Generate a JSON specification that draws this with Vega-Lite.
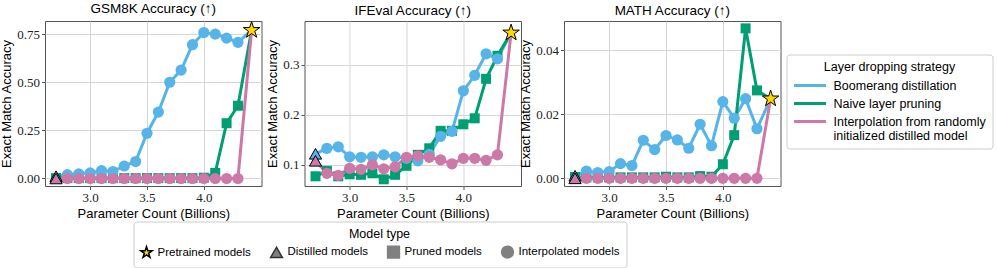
{
  "$schema": "https://vega.github.io/schema/vega-lite/v6.json",
  "padding": {"left": 0, "top": 1, "right": 2, "bottom": 2},
  "bounds": "flush",
  "spacing": 42.5,
  "data": {"values": [
    {"p":"GSM8K","s":"Boomerang distillation","x":2.7,"y":0.012,"t":"Distilled models"},
    {"p":"GSM8K","s":"Boomerang distillation","x":2.8,"y":0.020,"t":"Interpolated models"},
    {"p":"GSM8K","s":"Boomerang distillation","x":2.9,"y":0.024,"t":"Interpolated models"},
    {"p":"GSM8K","s":"Boomerang distillation","x":3.0,"y":0.029,"t":"Interpolated models"},
    {"p":"GSM8K","s":"Boomerang distillation","x":3.1,"y":0.041,"t":"Interpolated models"},
    {"p":"GSM8K","s":"Boomerang distillation","x":3.2,"y":0.036,"t":"Interpolated models"},
    {"p":"GSM8K","s":"Boomerang distillation","x":3.3,"y":0.065,"t":"Interpolated models"},
    {"p":"GSM8K","s":"Boomerang distillation","x":3.4,"y":0.088,"t":"Interpolated models"},
    {"p":"GSM8K","s":"Boomerang distillation","x":3.5,"y":0.235,"t":"Interpolated models"},
    {"p":"GSM8K","s":"Boomerang distillation","x":3.6,"y":0.345,"t":"Interpolated models"},
    {"p":"GSM8K","s":"Boomerang distillation","x":3.7,"y":0.500,"t":"Interpolated models"},
    {"p":"GSM8K","s":"Boomerang distillation","x":3.8,"y":0.563,"t":"Interpolated models"},
    {"p":"GSM8K","s":"Boomerang distillation","x":3.9,"y":0.695,"t":"Interpolated models"},
    {"p":"GSM8K","s":"Boomerang distillation","x":4.0,"y":0.758,"t":"Interpolated models"},
    {"p":"GSM8K","s":"Boomerang distillation","x":4.1,"y":0.750,"t":"Interpolated models"},
    {"p":"GSM8K","s":"Boomerang distillation","x":4.2,"y":0.729,"t":"Interpolated models"},
    {"p":"GSM8K","s":"Boomerang distillation","x":4.3,"y":0.707,"t":"Interpolated models"},
    {"p":"GSM8K","s":"Boomerang distillation","x":4.42,"y":0.770,"t":"Pretrained models"},
    {"p":"GSM8K","s":"Naive layer pruning","x":2.7,"y":0.002,"t":"Pruned models"},
    {"p":"GSM8K","s":"Naive layer pruning","x":2.8,"y":0.002,"t":"Pruned models"},
    {"p":"GSM8K","s":"Naive layer pruning","x":2.9,"y":0.002,"t":"Pruned models"},
    {"p":"GSM8K","s":"Naive layer pruning","x":3.0,"y":0.002,"t":"Pruned models"},
    {"p":"GSM8K","s":"Naive layer pruning","x":3.1,"y":0.002,"t":"Pruned models"},
    {"p":"GSM8K","s":"Naive layer pruning","x":3.2,"y":0.002,"t":"Pruned models"},
    {"p":"GSM8K","s":"Naive layer pruning","x":3.3,"y":0.002,"t":"Pruned models"},
    {"p":"GSM8K","s":"Naive layer pruning","x":3.4,"y":0.002,"t":"Pruned models"},
    {"p":"GSM8K","s":"Naive layer pruning","x":3.5,"y":0.002,"t":"Pruned models"},
    {"p":"GSM8K","s":"Naive layer pruning","x":3.6,"y":0.002,"t":"Pruned models"},
    {"p":"GSM8K","s":"Naive layer pruning","x":3.7,"y":0.002,"t":"Pruned models"},
    {"p":"GSM8K","s":"Naive layer pruning","x":3.8,"y":0.002,"t":"Pruned models"},
    {"p":"GSM8K","s":"Naive layer pruning","x":3.9,"y":0.002,"t":"Pruned models"},
    {"p":"GSM8K","s":"Naive layer pruning","x":4.0,"y":0.004,"t":"Pruned models"},
    {"p":"GSM8K","s":"Naive layer pruning","x":4.1,"y":0.029,"t":"Pruned models"},
    {"p":"GSM8K","s":"Naive layer pruning","x":4.2,"y":0.287,"t":"Pruned models"},
    {"p":"GSM8K","s":"Naive layer pruning","x":4.3,"y":0.378,"t":"Pruned models"},
    {"p":"GSM8K","s":"Naive layer pruning","x":4.42,"y":0.770,"t":"Pretrained models"},
    {"p":"GSM8K","s":"Interpolation from randomly initialized distilled model","x":2.7,"y":0.0,"t":"Distilled models"},
    {"p":"GSM8K","s":"Interpolation from randomly initialized distilled model","x":2.8,"y":0.0,"t":"Interpolated models"},
    {"p":"GSM8K","s":"Interpolation from randomly initialized distilled model","x":2.9,"y":0.0,"t":"Interpolated models"},
    {"p":"GSM8K","s":"Interpolation from randomly initialized distilled model","x":3.0,"y":0.0,"t":"Interpolated models"},
    {"p":"GSM8K","s":"Interpolation from randomly initialized distilled model","x":3.1,"y":0.0,"t":"Interpolated models"},
    {"p":"GSM8K","s":"Interpolation from randomly initialized distilled model","x":3.2,"y":0.0,"t":"Interpolated models"},
    {"p":"GSM8K","s":"Interpolation from randomly initialized distilled model","x":3.3,"y":0.0,"t":"Interpolated models"},
    {"p":"GSM8K","s":"Interpolation from randomly initialized distilled model","x":3.4,"y":0.0,"t":"Interpolated models"},
    {"p":"GSM8K","s":"Interpolation from randomly initialized distilled model","x":3.5,"y":0.0,"t":"Interpolated models"},
    {"p":"GSM8K","s":"Interpolation from randomly initialized distilled model","x":3.6,"y":0.0,"t":"Interpolated models"},
    {"p":"GSM8K","s":"Interpolation from randomly initialized distilled model","x":3.7,"y":0.0,"t":"Interpolated models"},
    {"p":"GSM8K","s":"Interpolation from randomly initialized distilled model","x":3.8,"y":0.0,"t":"Interpolated models"},
    {"p":"GSM8K","s":"Interpolation from randomly initialized distilled model","x":3.9,"y":0.0,"t":"Interpolated models"},
    {"p":"GSM8K","s":"Interpolation from randomly initialized distilled model","x":4.0,"y":0.0,"t":"Interpolated models"},
    {"p":"GSM8K","s":"Interpolation from randomly initialized distilled model","x":4.1,"y":0.0,"t":"Interpolated models"},
    {"p":"GSM8K","s":"Interpolation from randomly initialized distilled model","x":4.2,"y":0.0,"t":"Interpolated models"},
    {"p":"GSM8K","s":"Interpolation from randomly initialized distilled model","x":4.3,"y":0.0,"t":"Interpolated models"},
    {"p":"GSM8K","s":"Interpolation from randomly initialized distilled model","x":4.42,"y":0.770,"t":"Pretrained models"},

    {"p":"IFEval","s":"Boomerang distillation","x":2.7,"y":0.122,"t":"Distilled models"},
    {"p":"IFEval","s":"Boomerang distillation","x":2.8,"y":0.133,"t":"Interpolated models"},
    {"p":"IFEval","s":"Boomerang distillation","x":2.9,"y":0.136,"t":"Interpolated models"},
    {"p":"IFEval","s":"Boomerang distillation","x":3.0,"y":0.116,"t":"Interpolated models"},
    {"p":"IFEval","s":"Boomerang distillation","x":3.1,"y":0.115,"t":"Interpolated models"},
    {"p":"IFEval","s":"Boomerang distillation","x":3.2,"y":0.116,"t":"Interpolated models"},
    {"p":"IFEval","s":"Boomerang distillation","x":3.3,"y":0.120,"t":"Interpolated models"},
    {"p":"IFEval","s":"Boomerang distillation","x":3.4,"y":0.116,"t":"Interpolated models"},
    {"p":"IFEval","s":"Boomerang distillation","x":3.5,"y":0.113,"t":"Interpolated models"},
    {"p":"IFEval","s":"Boomerang distillation","x":3.6,"y":0.108,"t":"Interpolated models"},
    {"p":"IFEval","s":"Boomerang distillation","x":3.7,"y":0.121,"t":"Interpolated models"},
    {"p":"IFEval","s":"Boomerang distillation","x":3.8,"y":0.157,"t":"Interpolated models"},
    {"p":"IFEval","s":"Boomerang distillation","x":3.9,"y":0.167,"t":"Interpolated models"},
    {"p":"IFEval","s":"Boomerang distillation","x":4.0,"y":0.248,"t":"Interpolated models"},
    {"p":"IFEval","s":"Boomerang distillation","x":4.1,"y":0.279,"t":"Interpolated models"},
    {"p":"IFEval","s":"Boomerang distillation","x":4.2,"y":0.322,"t":"Interpolated models"},
    {"p":"IFEval","s":"Boomerang distillation","x":4.3,"y":0.312,"t":"Interpolated models"},
    {"p":"IFEval","s":"Boomerang distillation","x":4.42,"y":0.364,"t":"Pretrained models"},
    {"p":"IFEval","s":"Naive layer pruning","x":2.7,"y":0.077,"t":"Pruned models"},
    {"p":"IFEval","s":"Naive layer pruning","x":2.8,"y":0.088,"t":"Pruned models"},
    {"p":"IFEval","s":"Naive layer pruning","x":2.9,"y":0.077,"t":"Pruned models"},
    {"p":"IFEval","s":"Naive layer pruning","x":3.0,"y":0.081,"t":"Pruned models"},
    {"p":"IFEval","s":"Naive layer pruning","x":3.1,"y":0.080,"t":"Pruned models"},
    {"p":"IFEval","s":"Naive layer pruning","x":3.2,"y":0.083,"t":"Pruned models"},
    {"p":"IFEval","s":"Naive layer pruning","x":3.3,"y":0.071,"t":"Pruned models"},
    {"p":"IFEval","s":"Naive layer pruning","x":3.4,"y":0.080,"t":"Pruned models"},
    {"p":"IFEval","s":"Naive layer pruning","x":3.5,"y":0.098,"t":"Pruned models"},
    {"p":"IFEval","s":"Naive layer pruning","x":3.6,"y":0.120,"t":"Pruned models"},
    {"p":"IFEval","s":"Naive layer pruning","x":3.7,"y":0.133,"t":"Pruned models"},
    {"p":"IFEval","s":"Naive layer pruning","x":3.8,"y":0.168,"t":"Pruned models"},
    {"p":"IFEval","s":"Naive layer pruning","x":3.9,"y":0.168,"t":"Pruned models"},
    {"p":"IFEval","s":"Naive layer pruning","x":4.0,"y":0.181,"t":"Pruned models"},
    {"p":"IFEval","s":"Naive layer pruning","x":4.1,"y":0.193,"t":"Pruned models"},
    {"p":"IFEval","s":"Naive layer pruning","x":4.2,"y":0.272,"t":"Pruned models"},
    {"p":"IFEval","s":"Naive layer pruning","x":4.3,"y":0.318,"t":"Pruned models"},
    {"p":"IFEval","s":"Naive layer pruning","x":4.42,"y":0.364,"t":"Pretrained models"},
    {"p":"IFEval","s":"Interpolation from randomly initialized distilled model","x":2.7,"y":0.108,"t":"Distilled models"},
    {"p":"IFEval","s":"Interpolation from randomly initialized distilled model","x":2.8,"y":0.083,"t":"Interpolated models"},
    {"p":"IFEval","s":"Interpolation from randomly initialized distilled model","x":2.9,"y":0.079,"t":"Interpolated models"},
    {"p":"IFEval","s":"Interpolation from randomly initialized distilled model","x":3.0,"y":0.093,"t":"Interpolated models"},
    {"p":"IFEval","s":"Interpolation from randomly initialized distilled model","x":3.1,"y":0.091,"t":"Interpolated models"},
    {"p":"IFEval","s":"Interpolation from randomly initialized distilled model","x":3.2,"y":0.100,"t":"Interpolated models"},
    {"p":"IFEval","s":"Interpolation from randomly initialized distilled model","x":3.3,"y":0.092,"t":"Interpolated models"},
    {"p":"IFEval","s":"Interpolation from randomly initialized distilled model","x":3.4,"y":0.096,"t":"Interpolated models"},
    {"p":"IFEval","s":"Interpolation from randomly initialized distilled model","x":3.5,"y":0.115,"t":"Interpolated models"},
    {"p":"IFEval","s":"Interpolation from randomly initialized distilled model","x":3.6,"y":0.118,"t":"Interpolated models"},
    {"p":"IFEval","s":"Interpolation from randomly initialized distilled model","x":3.7,"y":0.115,"t":"Interpolated models"},
    {"p":"IFEval","s":"Interpolation from randomly initialized distilled model","x":3.8,"y":0.110,"t":"Interpolated models"},
    {"p":"IFEval","s":"Interpolation from randomly initialized distilled model","x":3.9,"y":0.102,"t":"Interpolated models"},
    {"p":"IFEval","s":"Interpolation from randomly initialized distilled model","x":4.0,"y":0.113,"t":"Interpolated models"},
    {"p":"IFEval","s":"Interpolation from randomly initialized distilled model","x":4.1,"y":0.113,"t":"Interpolated models"},
    {"p":"IFEval","s":"Interpolation from randomly initialized distilled model","x":4.2,"y":0.109,"t":"Interpolated models"},
    {"p":"IFEval","s":"Interpolation from randomly initialized distilled model","x":4.3,"y":0.120,"t":"Interpolated models"},
    {"p":"IFEval","s":"Interpolation from randomly initialized distilled model","x":4.42,"y":0.364,"t":"Pretrained models"},

    {"p":"MATH","s":"Boomerang distillation","x":2.7,"y":0.0008,"t":"Distilled models"},
    {"p":"MATH","s":"Boomerang distillation","x":2.8,"y":0.0023,"t":"Interpolated models"},
    {"p":"MATH","s":"Boomerang distillation","x":2.9,"y":0.0018,"t":"Interpolated models"},
    {"p":"MATH","s":"Boomerang distillation","x":3.0,"y":0.0021,"t":"Interpolated models"},
    {"p":"MATH","s":"Boomerang distillation","x":3.1,"y":0.0046,"t":"Interpolated models"},
    {"p":"MATH","s":"Boomerang distillation","x":3.2,"y":0.0040,"t":"Interpolated models"},
    {"p":"MATH","s":"Boomerang distillation","x":3.3,"y":0.0119,"t":"Interpolated models"},
    {"p":"MATH","s":"Boomerang distillation","x":3.4,"y":0.0090,"t":"Interpolated models"},
    {"p":"MATH","s":"Boomerang distillation","x":3.5,"y":0.0134,"t":"Interpolated models"},
    {"p":"MATH","s":"Boomerang distillation","x":3.6,"y":0.0120,"t":"Interpolated models"},
    {"p":"MATH","s":"Boomerang distillation","x":3.7,"y":0.0094,"t":"Interpolated models"},
    {"p":"MATH","s":"Boomerang distillation","x":3.8,"y":0.0169,"t":"Interpolated models"},
    {"p":"MATH","s":"Boomerang distillation","x":3.9,"y":0.0102,"t":"Interpolated models"},
    {"p":"MATH","s":"Boomerang distillation","x":4.0,"y":0.0240,"t":"Interpolated models"},
    {"p":"MATH","s":"Boomerang distillation","x":4.1,"y":0.0188,"t":"Interpolated models"},
    {"p":"MATH","s":"Boomerang distillation","x":4.2,"y":0.0249,"t":"Interpolated models"},
    {"p":"MATH","s":"Boomerang distillation","x":4.3,"y":0.0155,"t":"Interpolated models"},
    {"p":"MATH","s":"Boomerang distillation","x":4.42,"y":0.0249,"t":"Pretrained models"},
    {"p":"MATH","s":"Naive layer pruning","x":2.7,"y":0.0004,"t":"Pruned models"},
    {"p":"MATH","s":"Naive layer pruning","x":2.8,"y":0.0003,"t":"Pruned models"},
    {"p":"MATH","s":"Naive layer pruning","x":2.9,"y":0.0003,"t":"Pruned models"},
    {"p":"MATH","s":"Naive layer pruning","x":3.0,"y":0.0003,"t":"Pruned models"},
    {"p":"MATH","s":"Naive layer pruning","x":3.1,"y":0.0003,"t":"Pruned models"},
    {"p":"MATH","s":"Naive layer pruning","x":3.2,"y":0.0003,"t":"Pruned models"},
    {"p":"MATH","s":"Naive layer pruning","x":3.3,"y":0.0003,"t":"Pruned models"},
    {"p":"MATH","s":"Naive layer pruning","x":3.4,"y":0.0003,"t":"Pruned models"},
    {"p":"MATH","s":"Naive layer pruning","x":3.5,"y":0.0005,"t":"Pruned models"},
    {"p":"MATH","s":"Naive layer pruning","x":3.6,"y":0.0003,"t":"Pruned models"},
    {"p":"MATH","s":"Naive layer pruning","x":3.7,"y":0.0003,"t":"Pruned models"},
    {"p":"MATH","s":"Naive layer pruning","x":3.8,"y":0.0007,"t":"Pruned models"},
    {"p":"MATH","s":"Naive layer pruning","x":3.9,"y":0.0005,"t":"Pruned models"},
    {"p":"MATH","s":"Naive layer pruning","x":4.0,"y":0.0044,"t":"Pruned models"},
    {"p":"MATH","s":"Naive layer pruning","x":4.1,"y":0.0135,"t":"Pruned models"},
    {"p":"MATH","s":"Naive layer pruning","x":4.2,"y":0.0469,"t":"Pruned models"},
    {"p":"MATH","s":"Naive layer pruning","x":4.3,"y":0.0275,"t":"Pruned models"},
    {"p":"MATH","s":"Naive layer pruning","x":4.42,"y":0.0249,"t":"Pretrained models"},
    {"p":"MATH","s":"Interpolation from randomly initialized distilled model","x":2.7,"y":0.0,"t":"Distilled models"},
    {"p":"MATH","s":"Interpolation from randomly initialized distilled model","x":2.8,"y":0.0,"t":"Interpolated models"},
    {"p":"MATH","s":"Interpolation from randomly initialized distilled model","x":2.9,"y":0.0,"t":"Interpolated models"},
    {"p":"MATH","s":"Interpolation from randomly initialized distilled model","x":3.0,"y":0.0,"t":"Interpolated models"},
    {"p":"MATH","s":"Interpolation from randomly initialized distilled model","x":3.1,"y":0.0,"t":"Interpolated models"},
    {"p":"MATH","s":"Interpolation from randomly initialized distilled model","x":3.2,"y":0.0,"t":"Interpolated models"},
    {"p":"MATH","s":"Interpolation from randomly initialized distilled model","x":3.3,"y":0.0,"t":"Interpolated models"},
    {"p":"MATH","s":"Interpolation from randomly initialized distilled model","x":3.4,"y":0.0,"t":"Interpolated models"},
    {"p":"MATH","s":"Interpolation from randomly initialized distilled model","x":3.5,"y":0.0,"t":"Interpolated models"},
    {"p":"MATH","s":"Interpolation from randomly initialized distilled model","x":3.6,"y":0.0,"t":"Interpolated models"},
    {"p":"MATH","s":"Interpolation from randomly initialized distilled model","x":3.7,"y":0.0,"t":"Interpolated models"},
    {"p":"MATH","s":"Interpolation from randomly initialized distilled model","x":3.8,"y":0.0,"t":"Interpolated models"},
    {"p":"MATH","s":"Interpolation from randomly initialized distilled model","x":3.9,"y":0.0,"t":"Interpolated models"},
    {"p":"MATH","s":"Interpolation from randomly initialized distilled model","x":4.0,"y":0.0,"t":"Interpolated models"},
    {"p":"MATH","s":"Interpolation from randomly initialized distilled model","x":4.1,"y":0.0,"t":"Interpolated models"},
    {"p":"MATH","s":"Interpolation from randomly initialized distilled model","x":4.2,"y":0.0,"t":"Interpolated models"},
    {"p":"MATH","s":"Interpolation from randomly initialized distilled model","x":4.3,"y":0.0,"t":"Interpolated models"},
    {"p":"MATH","s":"Interpolation from randomly initialized distilled model","x":4.42,"y":0.0249,"t":"Pretrained models"}
  ]},
  "resolve": {"scale": {"x": "independent", "y": "independent"}},
  "hconcat": [
    {
      "width": 216.5, "height": 165,
      "title": "GSM8K Accuracy (↑)",
      "transform": [{"filter": "datum.p == 'GSM8K'"}],
      "encoding": {
        "x": {"field": "x", "type": "quantitative", "scale": {"domain": [2.603, 4.507], "nice": false, "zero": false}, "axis": {"values": [3.0, 3.5, 4.0], "format": ".1f", "title": "Parameter Count (Billions)"}},
        "y": {"field": "y", "type": "quantitative", "scale": {"domain": [-0.039, 0.818], "nice": false, "zero": false}, "axis": {"values": [0, 0.25, 0.5, 0.75], "format": ".2f", "title": "Exact Match Accuracy"}}
      },
      "layer": [
        {"mark": {"type": "line", "strokeWidth": 3}, "encoding": {"color": {"field": "s", "type": "nominal", "scale": {"domain": ["Boomerang distillation", "Naive layer pruning", "Interpolation from randomly initialized distilled model"], "range": ["#56B4E9", "#009E73", "#CC79A7"]}, "legend": {"title": "Layer dropping strategy", "orient": "none", "legendX": 741.5, "legendY": 33.5, "symbolType": "M-1,0L5.4,0", "symbolSize": 100, "symbolStrokeWidth": 3, "labelOffset": 28, "rowPadding": 5, "titlePadding": 6, "titleAnchor": "middle", "labelFontSize": 12.5, "labelExpr": "datum.label == 'Interpolation from randomly initialized distilled model' ? ['Interpolation from randomly', 'initialized distilled model'] : datum.label"}}}},
        {"transform": [{"filter": "datum.t == 'Pruned models'"}], "mark": {"type": "point", "filled": true, "opacity": 1, "size": 100}, "encoding": {"color": {"field": "s", "type": "nominal"}, "shape": {"field": "t", "type": "nominal", "scale": {"domain": ["Pretrained models", "Distilled models", "Pruned models", "Interpolated models"], "range": ["M0,-1L0.2245,-0.309L0.951,-0.309L0.363,0.118L0.588,0.809L0,0.382L-0.588,0.809L-0.363,0.118L-0.951,-0.309L-0.2245,-0.309Z", "triangle-up", "square", "circle"]}, "legend": {"title": "Model type", "orient": "none", "legendX": 88.5, "legendY": 200.5, "direction": "horizontal", "columns": 4, "titleAnchor": "middle", "symbolSize": 140, "columnPadding": 16, "labelFontSize": 11.5}}}},
        {"transform": [{"filter": "datum.t == 'Interpolated models'"}], "mark": {"type": "point", "filled": true, "opacity": 1, "size": 125}, "encoding": {"color": {"field": "s", "type": "nominal"}, "shape": {"field": "t", "type": "nominal"}}},
        {"transform": [{"filter": "datum.t == 'Distilled models'"}], "mark": {"type": "point", "filled": true, "opacity": 1, "stroke": "black", "strokeWidth": 1, "size": 150}, "encoding": {"color": {"field": "s", "type": "nominal"}, "shape": {"field": "t", "type": "nominal"}}},
        {"transform": [{"filter": "datum.t == 'Pretrained models' && datum.s == 'Boomerang distillation'"}], "mark": {"type": "point", "filled": true, "opacity": 1, "strokeWidth": 1, "size": 300}, "encoding": {"shape": {"field": "t", "type": "nominal"}, "fill": {"field": "t", "type": "nominal", "scale": {"domain": ["Pretrained models", "Distilled models", "Pruned models", "Interpolated models"], "range": ["#FFD700", "#808080", "#808080", "#808080"]}, "legend": {"title": "Model type", "orient": "none", "legendX": 88.5, "legendY": 200.5, "direction": "horizontal", "columns": 4, "titleAnchor": "middle", "symbolSize": 140, "columnPadding": 16, "labelFontSize": 11.5}}, "stroke": {"field": "t", "type": "nominal", "scale": {"domain": ["Pretrained models", "Distilled models", "Pruned models", "Interpolated models"], "range": ["#000000", "#333333", "#808080", "#808080"]}, "legend": {"title": "Model type", "orient": "none", "legendX": 88.5, "legendY": 200.5, "direction": "horizontal", "columns": 4, "titleAnchor": "middle", "symbolSize": 140, "columnPadding": 16, "labelFontSize": 11.5}}}}
      ]
    },
    {
      "width": 216.5, "height": 165,
      "title": "IFEval Accuracy (↑)",
      "transform": [{"filter": "datum.p == 'IFEval'"}],
      "encoding": {
        "x": {"field": "x", "type": "quantitative", "scale": {"domain": [2.603, 4.507], "nice": false, "zero": false}, "axis": {"values": [3.0, 3.5, 4.0], "format": ".1f", "title": "Parameter Count (Billions)"}},
        "y": {"field": "y", "type": "quantitative", "scale": {"domain": [0.0576, 0.3876], "nice": false, "zero": false}, "axis": {"values": [0.1, 0.2, 0.3], "format": ".1f", "title": "Exact Match Accuracy"}}
      },
      "layer": [
        {"mark": {"type": "line", "strokeWidth": 3}, "encoding": {"color": {"field": "s", "type": "nominal"}}},
        {"transform": [{"filter": "datum.t == 'Pruned models'"}], "mark": {"type": "point", "filled": true, "opacity": 1, "size": 100}, "encoding": {"color": {"field": "s", "type": "nominal"}, "shape": {"field": "t", "type": "nominal"}}},
        {"transform": [{"filter": "datum.t == 'Interpolated models'"}], "mark": {"type": "point", "filled": true, "opacity": 1, "size": 125}, "encoding": {"color": {"field": "s", "type": "nominal"}, "shape": {"field": "t", "type": "nominal"}}},
        {"transform": [{"filter": "datum.t == 'Distilled models'"}], "mark": {"type": "point", "filled": true, "opacity": 1, "stroke": "black", "strokeWidth": 1, "size": 150}, "encoding": {"color": {"field": "s", "type": "nominal"}, "shape": {"field": "t", "type": "nominal"}}},
        {"transform": [{"filter": "datum.t == 'Pretrained models' && datum.s == 'Boomerang distillation'"}], "mark": {"type": "point", "filled": true, "opacity": 1, "strokeWidth": 1, "size": 300}, "encoding": {"shape": {"field": "t", "type": "nominal"}, "fill": {"field": "t", "type": "nominal"}, "stroke": {"field": "t", "type": "nominal"}}}
      ]
    },
    {
      "width": 216.5, "height": 165,
      "title": "MATH Accuracy (↑)",
      "transform": [{"filter": "datum.p == 'MATH'"}],
      "encoding": {
        "x": {"field": "x", "type": "quantitative", "scale": {"domain": [2.603, 4.507], "nice": false, "zero": false}, "axis": {"values": [3.0, 3.5, 4.0], "format": ".1f", "title": "Parameter Count (Billions)"}},
        "y": {"field": "y", "type": "quantitative", "scale": {"domain": [-0.0024, 0.0492], "nice": false, "zero": false}, "axis": {"values": [0, 0.02, 0.04], "format": ".2f", "title": "Exact Match Accuracy"}}
      },
      "layer": [
        {"mark": {"type": "line", "strokeWidth": 3}, "encoding": {"color": {"field": "s", "type": "nominal"}}},
        {"transform": [{"filter": "datum.t == 'Pruned models'"}], "mark": {"type": "point", "filled": true, "opacity": 1, "size": 100}, "encoding": {"color": {"field": "s", "type": "nominal"}, "shape": {"field": "t", "type": "nominal"}}},
        {"transform": [{"filter": "datum.t == 'Interpolated models'"}], "mark": {"type": "point", "filled": true, "opacity": 1, "size": 125}, "encoding": {"color": {"field": "s", "type": "nominal"}, "shape": {"field": "t", "type": "nominal"}}},
        {"transform": [{"filter": "datum.t == 'Distilled models'"}], "mark": {"type": "point", "filled": true, "opacity": 1, "stroke": "black", "strokeWidth": 1, "size": 150}, "encoding": {"color": {"field": "s", "type": "nominal"}, "shape": {"field": "t", "type": "nominal"}}},
        {"transform": [{"filter": "datum.t == 'Pretrained models' && datum.s == 'Boomerang distillation'"}], "mark": {"type": "point", "filled": true, "opacity": 1, "strokeWidth": 1, "size": 300}, "encoding": {"shape": {"field": "t", "type": "nominal"}, "fill": {"field": "t", "type": "nominal"}, "stroke": {"field": "t", "type": "nominal"}}}
      ]
    }
  ],
  "config": {
    "font": "Liberation Sans",
    "view": {"stroke": "#555555", "strokeWidth": 1},
    "axis": {"grid": true, "gridColor": "#d6d6d6", "gridWidth": 1, "domain": false, "tickColor": "#555555", "tickSize": 3.5, "labelFont": "Liberation Serif", "labelFontSize": 13, "labelColor": "#222222", "labelPadding": 2, "titleFont": "Liberation Sans", "titleFontSize": 13, "titleFontWeight": "normal", "titleColor": "#000000", "titlePadding": 3},
    "title": {"font": "Liberation Sans", "fontSize": 13.5, "fontWeight": "normal", "color": "#000000", "offset": 4},
    "legend": {"labelFont": "Liberation Sans", "labelFontSize": 12, "labelColor": "#000000", "titleFont": "Liberation Sans", "titleFontSize": 12.5, "titleFontWeight": "normal", "titleColor": "#000000", "strokeColor": "#cccccc", "fillColor": "#ffffff", "cornerRadius": 3, "padding": 6, "labelLimit": 300}
  }
}
